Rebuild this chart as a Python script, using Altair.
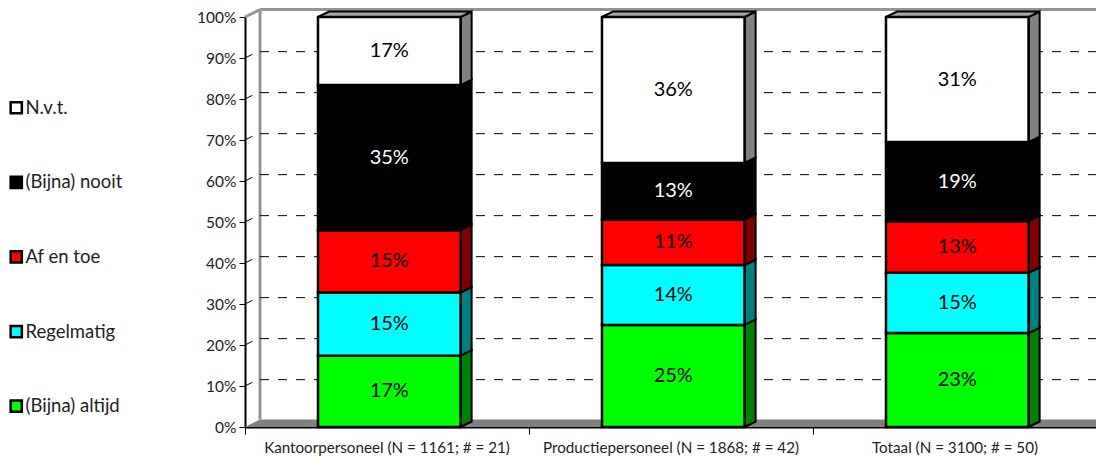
import altair as alt
import pandas as pd

FONT = "Lato"
categories = ["Kantoorpersoneel (N = 1161; # = 21)", "Productiepersoneel (N = 1868; # = 42)", "Totaal (N = 3100; # = 50)"]
series = ["N.v.t.", "(Bijna) nooit", "Af en toe", "Regelmatig", "(Bijna) altijd"]
fronts = ["#ffffff", "#000000", "#ff0000", "#00ffff", "#00ff00"]
sides = ["#808080", "#000000", "#800000", "#008080", "#008000"]
text_colors = ["black", "white", "black", "black", "black"]

altijd = [17.4, 24.9, 22.9]
regelmatig = [15.4, 14.6, 14.7]
af_en_toe = [15.2, 11.1, 12.6]
nooit = [35.4, 13.8, 19.3]
nvt = [16.6, 35.6, 30.5]
labels = {"(Bijna) altijd": ["17%", "25%", "23%"], "Regelmatig": ["15%", "14%", "15%"],
          "Af en toe": ["15%", "11%", "13%"], "(Bijna) nooit": ["35%", "13%", "19%"],
          "N.v.t.": ["17%", "36%", "31%"]}
values = {"(Bijna) altijd": altijd, "Regelmatig": regelmatig, "Af en toe": af_en_toe,
          "(Bijna) nooit": nooit, "N.v.t.": nvt}
y_ticks = [i / 100 for i in range(0, 101, 10)]

W, H = 851, 410
XMAX = W / 284
BAR_L, BAR_R = 0.257, 0.759
DX, DY = 0.039, 0.0134        # depth of a bar
WX, WY = 0.0528, 0.018        # depth of the chart box
GY = 0.0155                   # vertical shift of the gridlines on the back wall

rows, side_rows, top_rows = [], [], []
for c, cat in enumerate(categories):
    base = 0.0
    for s in reversed(series):
        v = values[s][c] / 100
        i = series.index(s)
        l, r = c + BAR_L, c + BAR_R
        rows.append(dict(l=l, r=r, y0=base, y1=base + v, mid=base + v / 2, cx=(l + r) / 2,
                         series=s, label=labels[s][c], tc=text_colors[i]))
        for x, dy in ((r, 0), (r + DX, DY)):
            side_rows.append(dict(x=x, y0=base + dy, y1=base + v + dy, key=f"{c}-{s}", col=sides[i]))
        base += v
    for px, up, low in ((c + BAR_L, 1.0, 1.0), (c + BAR_L + DX, 1 + DY, 1.0), (c + BAR_R, 1 + DY, 1.0), (c + BAR_R + DX, 1 + DY, 1 + DY)):
        top_rows.append(dict(x=px, y0=up, y1=low, key=str(c)))
df = pd.DataFrame(rows)
sdf = pd.DataFrame(side_rows)

x = alt.X("x:Q", scale=alt.Scale(domain=[0, XMAX], nice=False, zero=False),
          axis=alt.Axis(values=[0, 1, 2, 3], labels=False, title=None, grid=False, tickSize=7,
                        tickColor="black", domainColor="black", domainWidth=2, tickWidth=1))
y = alt.Y("y:Q", scale=alt.Scale(domain=[0, 1], nice=False),
          axis=alt.Axis(values=y_ticks, format=".0%", title=None, grid=False, tickSize=6, tickColor="black",
                        domainColor="black", domainWidth=2, labelFontSize=15.5, labelColor="#222",
                        labelFont=FONT, labelPadding=3))

floor = alt.Chart(pd.DataFrame({"x": [0, WX, XMAX], "y": [0, WY, WY], "y2": [0, 0, 0]})).mark_area(
    color="#808080", clip=False).encode(x=x, y=y, y2="y2:Q")

wall = alt.Chart(pd.DataFrame({"x": [0, WX, WX, XMAX], "y": [1, 1 + WY, 1 + WY, 1 + WY],
                               "k": [0, 0, 1, 1]})).mark_line(color="#949494", strokeWidth=3).encode(
    x=x, y=y, detail="k:N")
wall2 = alt.Chart(pd.DataFrame({"x": [WX, WX], "y": [1 + WY, WY]})).mark_line(
    color="#949494", strokeWidth=3).encode(x=x, y=y)

grid_rows = []
for v in y_ticks[1:-1]:
    grid_rows += [dict(x=WX, y=v + GY, k=v), dict(x=XMAX, y=v + GY, k=v)]
grid = alt.Chart(pd.DataFrame(grid_rows)).mark_line(color="black", strokeWidth=1, strokeDash=[9, 9]).encode(
    x=x, y=y, detail="k:N")

diag_rows = []
for v in y_ticks[1:-1]:
    diag_rows += [dict(x=0, y=v, k=v), dict(x=0.026, y=v + 0.009, k=v)]
diag = alt.Chart(pd.DataFrame(diag_rows)).mark_line(color="black", strokeWidth=1).encode(x=x, y=y, detail="k:N")

side = alt.Chart(sdf).mark_area(stroke="black", strokeWidth=2).encode(
    x=x, y=alt.Y("y0:Q"), y2="y1:Q", detail="key:N", color=alt.Color("col:N", scale=None, legend=None))
top = alt.Chart(pd.DataFrame(top_rows)).mark_area(stroke="black", strokeWidth=2, color="#a8a8a8").encode(
    x=x, y=alt.Y("y0:Q"), y2="y1:Q", detail="key:N")

front = alt.Chart(df).mark_rect(stroke="black", strokeWidth=2.5).encode(
    x=alt.X("l:Q"), x2="r:Q", y=alt.Y("y0:Q"), y2="y1:Q",
    fill=alt.Fill("series:N", scale=alt.Scale(domain=series, range=fronts),
                  legend=alt.Legend(title=None, orient="none", legendX=-238, legendY=81.5, rowPadding=52.6,
                                    symbolType="square", symbolSize=125, symbolStrokeColor="black",
                                    symbolStrokeWidth=2.5, symbolOpacity=1, labelFontSize=18.5, labelFont=FONT,
                                    labelColor="#222", labelOffset=0, labelLimit=200)))

text = alt.Chart(df).mark_text(fontSize=20, font=FONT, baseline="middle").encode(
    x=alt.X("cx:Q"), y=alt.Y("mid:Q"), text="label:N", color=alt.Color("tc:N", scale=None, legend=None))

xlab = alt.Chart(pd.DataFrame({"x": [0.5, 1.5, 2.5], "t": categories})).mark_text(
    fontSize=15.2, font=FONT, color="#222", baseline="middle").encode(
    x=alt.X("x:Q"), y=alt.value(H + 21), text="t:N")

chart = (floor + wall + wall2 + grid + diag + side + top + front + text + xlab).properties(
    width=W, height=H,
    padding={"left": 237, "top": 9, "right": 0, "bottom": 30},
    autosize=alt.AutoSizeParams(type="none"),
).configure_view(stroke=None)

chart.save("out.html", embed_options={"renderer": "svg", "actions": False})
